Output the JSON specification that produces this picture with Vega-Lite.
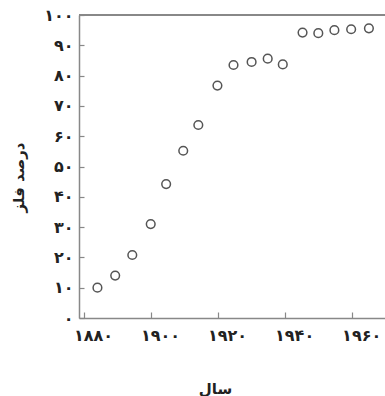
{
  "$schema": "https://vega.github.io/schema/vega-lite/v6.json",
  "width": 306,
  "height": 303,
  "autosize": {"type": "none"},
  "padding": {"left": 79, "top": 15, "right": 0, "bottom": 78},
  "background": "white",
  "config": {"view": {"stroke": null}, "font": "DejaVu Sans"},
  "data": {"values": [
    {"year": 1884, "pct": 10},
    {"year": 1889.3, "pct": 14},
    {"year": 1894.4, "pct": 20.8},
    {"year": 1899.9, "pct": 31},
    {"year": 1904.5, "pct": 44.2},
    {"year": 1909.6, "pct": 55.2},
    {"year": 1914.1, "pct": 63.7},
    {"year": 1919.8, "pct": 76.7},
    {"year": 1924.6, "pct": 83.5},
    {"year": 1930, "pct": 84.5},
    {"year": 1934.8, "pct": 85.6},
    {"year": 1939.3, "pct": 83.7},
    {"year": 1945.2, "pct": 94.2},
    {"year": 1949.9, "pct": 94},
    {"year": 1954.7, "pct": 95},
    {"year": 1959.7, "pct": 95.3},
    {"year": 1965, "pct": 95.6}
  ]},
  "encoding": {
    "x": {
      "field": "year", "type": "quantitative",
      "scale": {"domain": [1878.5, 1969.8], "nice": false, "zero": false},
      "axis": {
        "values": [1880, 1900, 1920, 1940, 1960],
        "labelExpr": "['۱۸۸۰','۱۹۰۰','۱۹۲۰','۱۹۴۰','۱۹۶۰'][round((datum.value-1880)/20)]",
        "title": "سال",
        "titleFont": "DejaVu Sans", "titleFontSize": 15, "titleFontWeight": "bold", "titleColor": "#222222",
        "titleX": 136, "titleY": 63,
        "labelFont": "DejaVu Sans", "labelFontSize": 16, "labelFontWeight": "bold", "labelColor": "#222222",
        "labelPadding": 15, "labelFlush": false, "labelOverlap": false, "labelOffset": 9,
        "domainColor": "#888888", "domainWidth": 1.5,
        "tickColor": "#888888", "tickSize": -6, "tickWidth": 1.2,
        "grid": false
      }
    },
    "y": {
      "field": "pct", "type": "quantitative",
      "scale": {"domain": [0, 100], "nice": false},
      "axis": {
        "values": [0, 10, 20, 30, 40, 50, 60, 70, 80, 90, 100],
        "labelExpr": "['۰','۱۰','۲۰','۳۰','۴۰','۵۰','۶۰','۷۰','۸۰','۹۰','۱۰۰'][round(datum.value/10)]",
        "title": "درصد فلز",
        "titleFont": "DejaVu Sans", "titleFontSize": 15, "titleFontWeight": "bold", "titleColor": "#222222",
        "titleX": -53, "titleY": 162,
        "labelFont": "DejaVu Sans", "labelFontSize": 16, "labelFontWeight": "bold", "labelColor": "#222222",
        "labelPadding": 11, "labelFlush": false, "labelOverlap": false,
        "domainColor": "#888888", "domainWidth": 1.5,
        "tickColor": "#888888", "tickSize": -5, "tickWidth": 1.2,
        "grid": false
      }
    }
  },
  "layer": [
    {
      "mark": {"type": "point", "shape": "circle", "filled": false, "size": 75, "stroke": "#555555", "strokeWidth": 1.5, "opacity": 1}
    },
    {
      "mark": {"type": "rule", "color": "#888888", "strokeWidth": 1.5},
      "encoding": {"x": null, "y": {"datum": 100, "type": "quantitative"}}
    }
  ]
}
